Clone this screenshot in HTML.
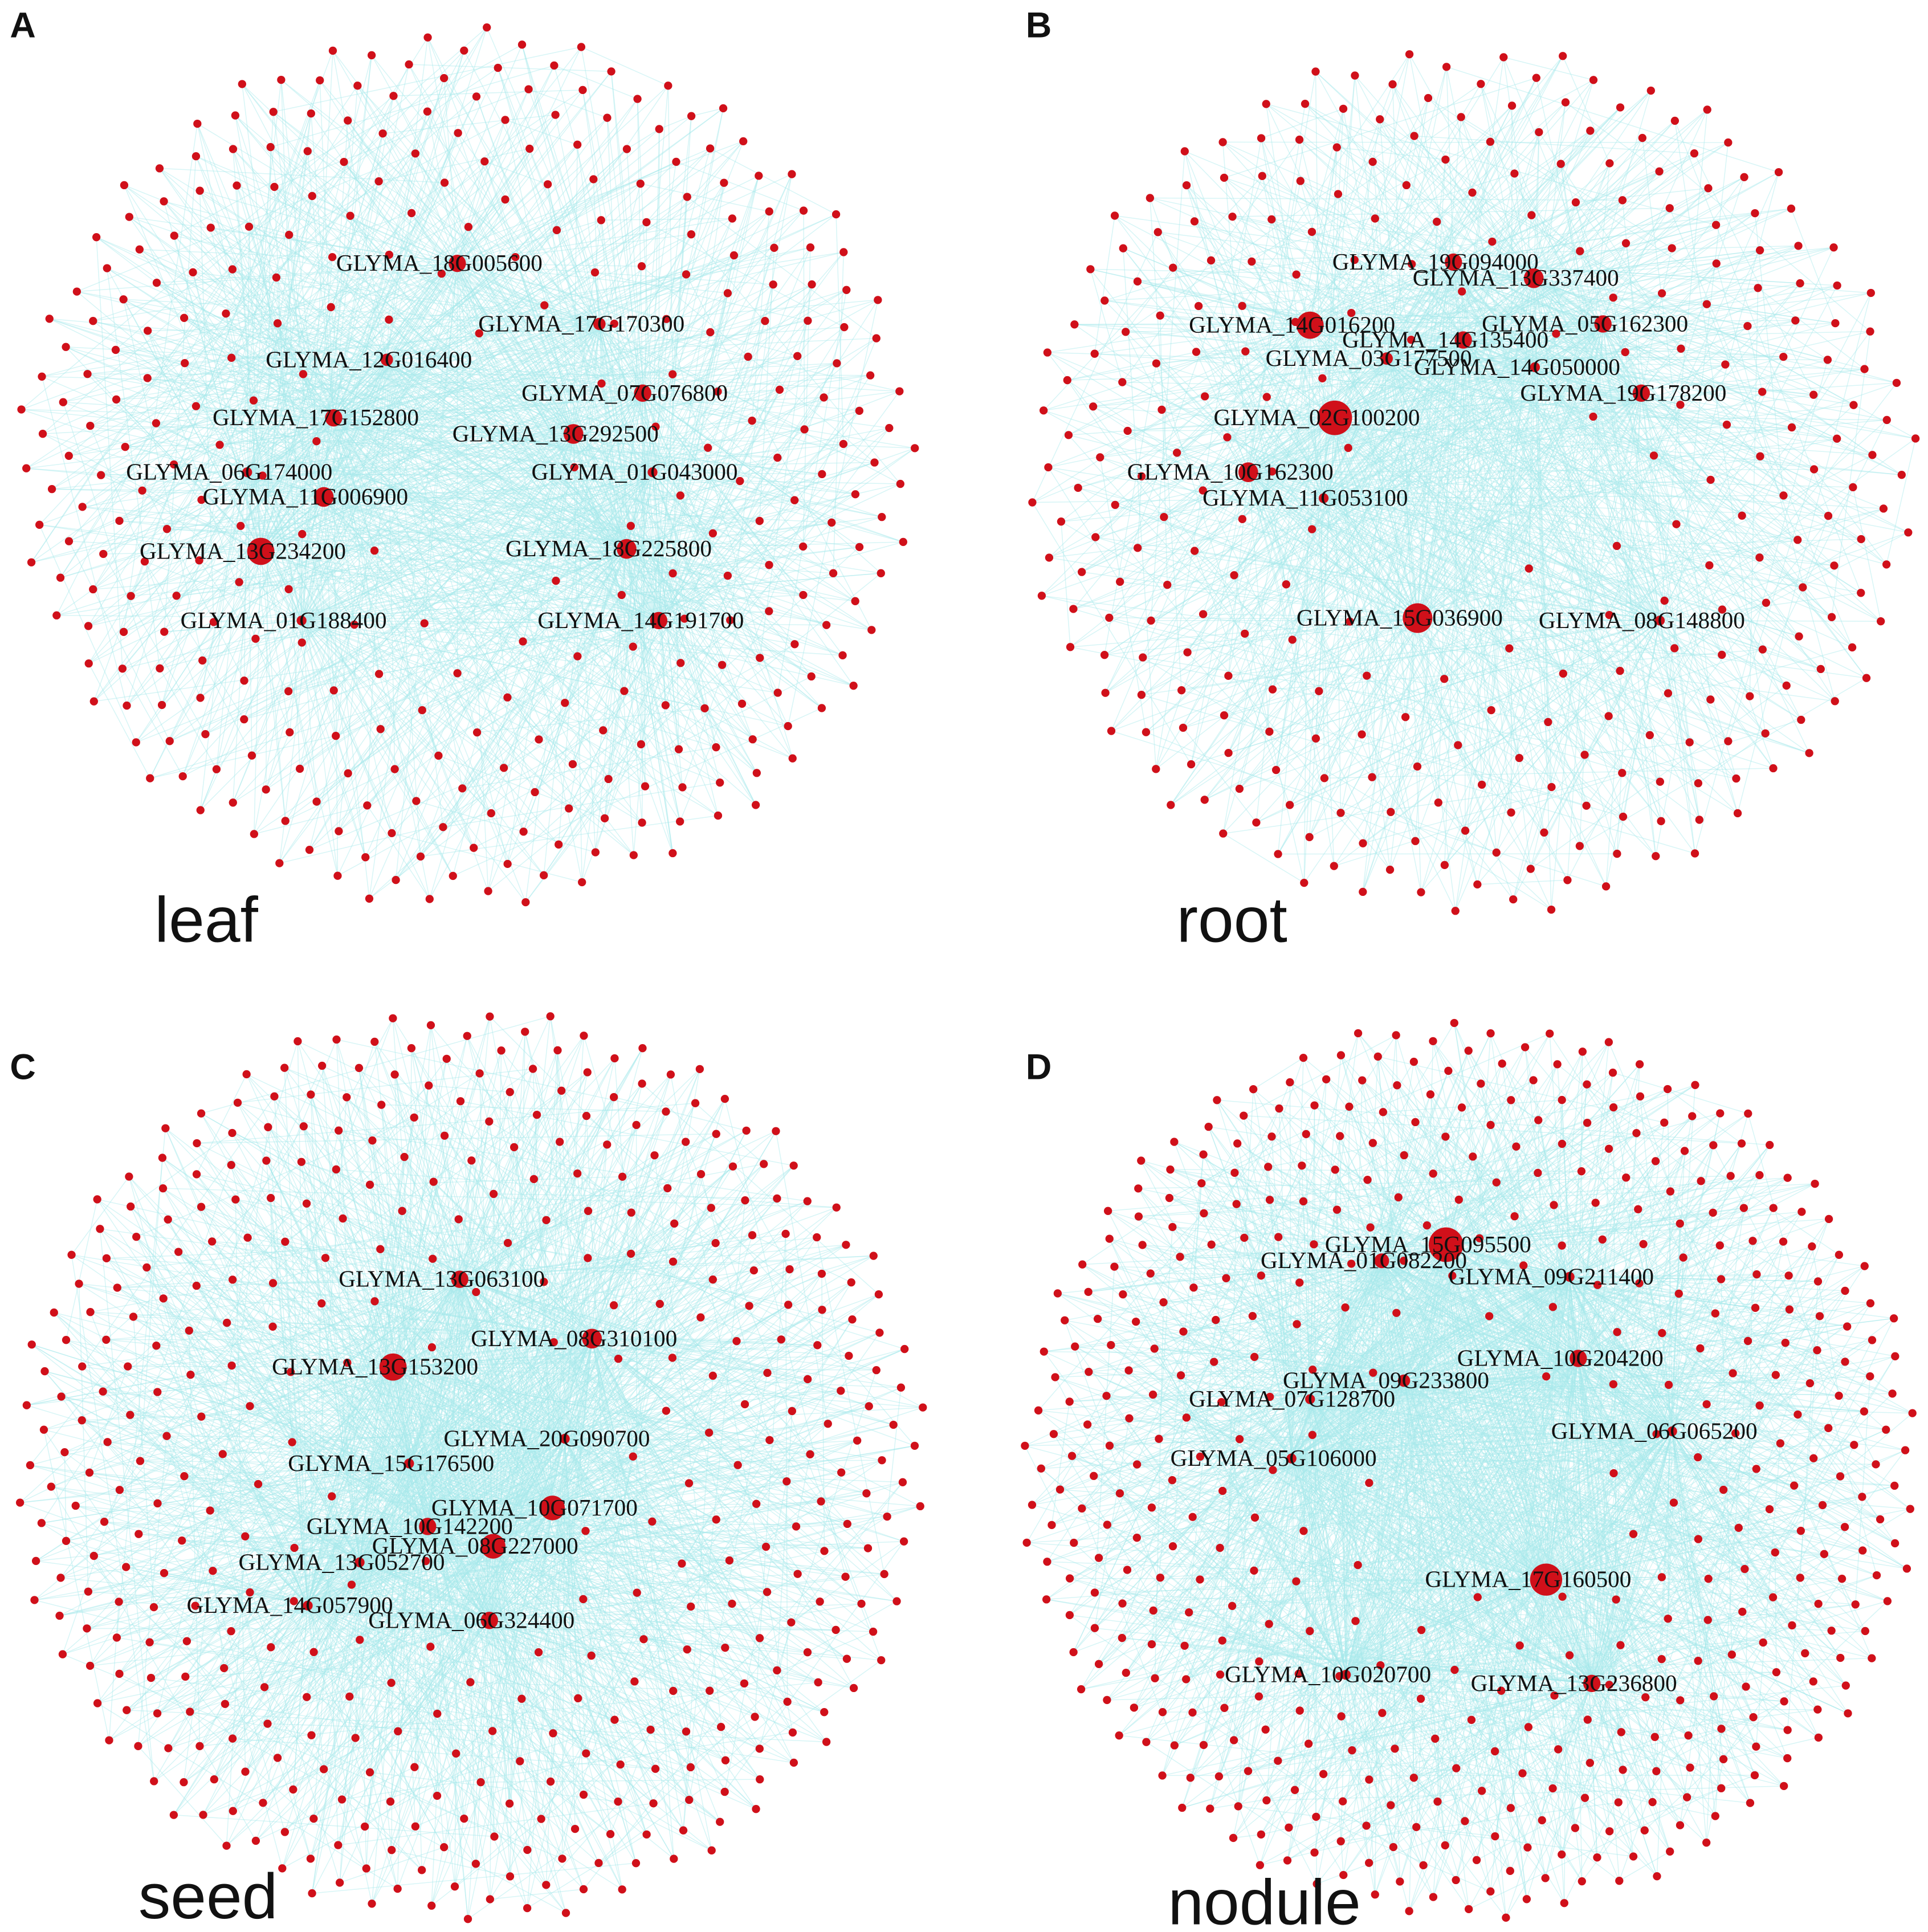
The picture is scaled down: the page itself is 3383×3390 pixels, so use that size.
<!DOCTYPE html>
<html><head><meta charset="utf-8"><style>
html,body{margin:0;padding:0;background:#fff;}
svg{display:block;}
</style></head><body>
<svg id="fig" width="3383" height="3390" viewBox="0 0 1560 1563" xmlns="http://www.w3.org/2000/svg">
<rect width="1560" height="1563" fill="#fff"/>
</svg>
<script>
// panel definitions (centre/radius describe layout, not data)
const panelNames = ['leaf','root','seed','nodule'];
const panelLetters = ['A','B','C','D'];
const nodeCounts = [330, 300, 420, 470];
// hub gene labels per panel
const hubsA = ['GLYMA_18G005600','GLYMA_17G170300','GLYMA_12G016400','GLYMA_07G076800','GLYMA_17G152800','GLYMA_13G292500','GLYMA_06G174000','GLYMA_01G043000','GLYMA_11G006900','GLYMA_13G234200','GLYMA_18G225800','GLYMA_01G188400','GLYMA_14G191700'];
const hubsB = ['GLYMA_19G094000','GLYMA_13G337400','GLYMA_14G016200','GLYMA_05G162300','GLYMA_14G135400','GLYMA_03G177500','GLYMA_14G050000','GLYMA_19G178200','GLYMA_02G100200','GLYMA_10G162300','GLYMA_11G053100','GLYMA_15G036900','GLYMA_08G148800'];
const hubsC = ['GLYMA_13G063100','GLYMA_08G310100','GLYMA_13G153200','GLYMA_20G090700','GLYMA_15G176500','GLYMA_10G071700','GLYMA_10G142200','GLYMA_08G227000','GLYMA_13G052700','GLYMA_14G057900','GLYMA_06G324400'];
const hubsD = ['GLYMA_15G095500','GLYMA_01G082200','GLYMA_09G211400','GLYMA_10G204200','GLYMA_09G233800','GLYMA_07G128700','GLYMA_06G065200','GLYMA_05G106000','GLYMA_17G160500','GLYMA_10G020700','GLYMA_13G236800'];
// hub degree (node size) per panel
const degA = [7,5,5,7,7,8,4,4,8,11,8,4,7];
const degB = [7,8,11,7,7,5,4,7,14,8,4,12,4];
const degC = [7,8,11,4,4,10,7,10,4,4,7];
const degD = [14,6,4,7,5,4,4,4,13,4,7];
// hub node positions within network (x,y)
const hubXA=[370,485,313,520,270,464,200,528,262,211,507,244,533], hubYA=[213,262,291,318,338,351,382,382,402,446,444,502,502];
const hubXB=[1176,1241,1060,1297,1184,1122,1242,1328,1080,1010,1071,1147,1343], hubYB=[212,225,263,262,275,290,297,318,338,382,403,500,502];
const hubXC=[372,479,318,457,331,447,346,399,291,249,396], hubYC=[1035,1083,1106,1164,1184,1220,1235,1251,1264,1299,1311];
const hubXD=[1170,1118,1270,1277,1136,1060,1353,1045,1251,1089,1288], hubYD=[1007,1020,1033,1099,1117,1132,1158,1180,1278,1355,1362];

const panels=[
 {c:[378,378],r:[365,358],hubs:hubsA,deg:degA,hx:hubXA,hy:hubYA},
 {c:[1190,388],r:[362,355],hubs:hubsB,deg:degB,hx:hubXB,hy:hubYB},
 {c:[380,1185],r:[370,372],hubs:hubsC,deg:degC,hx:hubXC,hy:hubYC},
 {c:[1190,1188],r:[365,365],hubs:hubsD,deg:degD,hx:hubXD,hy:hubYD}];
const labelPos=[[8,30],[830,30],[8,873],[830,873]];
const tissuePos=[[125,762],[952,762],[112,1552],[945,1557]];

const NS='http://www.w3.org/2000/svg';
const svg=document.getElementById('fig');
function mk(tag,attrs,parent){const e=document.createElementNS(NS,tag);for(const k in attrs)e.setAttribute(k,attrs[k]);parent.appendChild(e);return e;}

panels.forEach((p,pi)=>{
  const g=mk('g',{},svg);
  
  
  const eg=mk('g',{stroke:'#a6e9ea','stroke-width':'0.7','stroke-opacity':'0.45'},g);
  
  
  const ng=mk('g',{fill:'#d0101a'},g);
  
  
  const n=nodeCounts[pi];
  const ga=Math.PI*(3-Math.sqrt(5));
  const pts=[];
  for(let i=0;i<n;i++){
    let t=Math.sqrt((i+0.5)/n);
    t=0.15+0.85*Math.pow(t,0.7);
    const a=i*ga+pi;
    pts.push([p.c[0]+p.r[0]*t*Math.cos(a), p.c[1]+p.r[1]*t*Math.sin(a)]);
  }
  const H=p.hubs.length;
  pts.forEach((q,i)=>{
    for(let k=0;k<3;k++){
      const h=(i*7+k*5+pi)%H;
      mk('line',{x1:q[0].toFixed(1),y1:q[1].toFixed(1),x2:p.hx[h],y2:p.hy[h]},eg);
    }
    const o=pts[(i*37+11)%n];
    mk('line',{x1:q[0].toFixed(1),y1:q[1].toFixed(1),x2:o[0].toFixed(1),y2:o[1].toFixed(1)},eg);
  });
  pts.forEach(q=>{
    const c=mk('circle',{cx:q[0].toFixed(1),cy:q[1].toFixed(1),r:3.3},ng);
    
    
  });
  p.hubs.forEach((name,h)=>{
    const c=mk('circle',{cx:p.hx[h],cy:p.hy[h],r:p.deg[h]},g);
    c.setAttribute('fill','#d0101a');
    
    
    const t=mk('text',{x:p.hx[h]-98,y:p.hy[h]+6,'font-family':'"Liberation Serif",serif','font-size':'19',fill:'#111'},g);
    t.textContent=name;
    
    
  });
  const L=mk('text',{x:labelPos[pi][0],y:labelPos[pi][1],'font-family':'"Liberation Sans",sans-serif','font-size':'29','font-weight':'bold',fill:'#111'},svg);
  L.textContent=panelLetters[pi];
  
  
  const T=mk('text',{x:tissuePos[pi][0],y:tissuePos[pi][1],'font-family':'"Liberation Sans",sans-serif','font-size':'52',fill:'#111'},svg);
  T.textContent=panelNames[pi];
  
  
});
</script>
</body></html>
